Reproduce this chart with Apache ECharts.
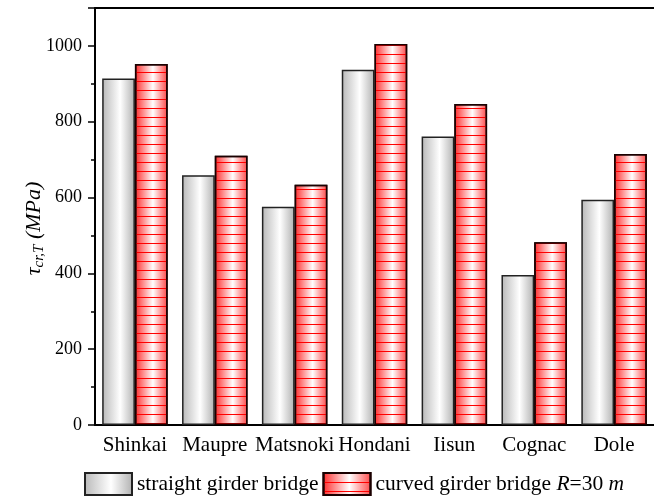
<!DOCTYPE html>
<html>
<head>
<meta charset="utf-8">
<script src="https://cdn.jsdelivr.net/npm/echarts@6/dist/echarts.min.js"></script>
<style>html,body{margin:0;padding:0;background:#fff}#c{width:654px;height:500px}</style>
</head>
<body>
<div id="c"></div>
<script>
var categories = ['Shinkai', 'Maupre', 'Matsnoki', 'Hondani', 'Iisun', 'Cognac', 'Dole'];
var straightValues = [914, 659, 576, 937, 761, 396, 594];
var curvedValues = [952, 710, 634, 1005, 847, 482, 715];
var yTicks = [0, 200, 400, 600, 800, 1000];
var seriesNames = ['straight girder bridge', 'curved girder bridge R=30 m'];

var FONT = 'Liberation Serif';
var chart = echarts.init(document.getElementById('c'), null, {renderer: 'canvas'});

var grayFill = {
  type: 'linear', x: 0, y: 0, x2: 1, y2: 0,
  colorStops: [
    {offset: 0, color: '#b8b8b8'},
    {offset: 0.55, color: '#ffffff'},
    {offset: 1, color: '#b0b0b0'}
  ]
};
var redFill = {
  type: 'linear', x: 0, y: 0, x2: 1, y2: 0,
  colorStops: [
    {offset: 0, color: '#ff2a2a'},
    {offset: 0.55, color: '#ffffff'},
    {offset: 1, color: '#ff4545'}
  ]
};

var option = {
  animation: false,
  backgroundColor: '#ffffff',
  grid: {left: 95, top: 8, width: 567, height: 417},
  legend: {
    bottom: 4,
    left: 84,
    padding: 0,
    itemWidth: 47,
    itemHeight: 22,
    itemGap: 4,
    icon: 'rect',
    textStyle: {
      fontFamily: FONT, fontSize: 21.5, color: '#000',
      rich: {
        n: {fontFamily: FONT, fontSize: 21.5, color: '#000'},
        i: {fontFamily: FONT, fontSize: 21.5, color: '#000', fontStyle: 'italic'}
      }
    },
    formatter: function (name) {
      if (name === seriesNames[1]) {
        return '{n|curved girder bridge }{i|R}{n|=30 }{i|m}';
      }
      return '{n|' + name + '}';
    },
    data: seriesNames
  },
  xAxis: [
    {
      type: 'category', data: categories, position: 'bottom',
      axisLine: {lineStyle: {color: '#000', width: 2}},
      axisTick: {alignWithLabel: true, interval: 0, length: 7, lineStyle: {color: '#000', width: 1.5}},
      axisLabel: {interval: 0, fontFamily: FONT, fontSize: 21, color: '#000', margin: 10}
    },
    {
      type: 'category', data: categories, position: 'bottom',
      axisLine: {show: false},
      axisTick: {interval: 0, length: 4, lineStyle: {color: '#000', width: 1.5}},
      axisLabel: {show: false}
    },
    {
      type: 'category', data: categories, position: 'top',
      axisLine: {lineStyle: {color: '#000', width: 2}},
      axisTick: {interval: 0, inside: true, length: 3, lineStyle: {color: '#555', width: 1}},
      axisLabel: {show: false}
    }
  ],
  yAxis: {
    type: 'value', min: 0, max: 1100, interval: 200,
    name: '{i|τ}{s|cr,T}{i| (MPa)}',
    nameLocation: 'middle',
    nameRotate: 90,
    nameGap: 48,
    nameMoveOverlap: false,
    nameTextStyle: {
      fontFamily: FONT, fontSize: 22, color: '#000',
      padding: [0, 24, 0, 0],
      rich: {
        i: {fontFamily: FONT, fontSize: 22, fontStyle: 'italic', color: '#000'},
        s: {fontFamily: FONT, fontSize: 15, fontStyle: 'italic', color: '#000', verticalAlign: 'bottom', padding: [10, 0, 0, 0]}
      }
    },
    axisLine: {show: true, lineStyle: {color: '#000', width: 2}},
    axisTick: {show: true, length: 7, lineStyle: {color: '#000', width: 1.5}},
    minorTick: {show: true, splitNumber: 2, length: 4, lineStyle: {color: '#000', width: 1.5}},
    splitLine: {show: false},
    axisLabel: {
      fontFamily: FONT, fontSize: 18, color: '#000', margin: 13,
      formatter: function (v) { return yTicks.indexOf(v) >= 0 ? String(v) : ''; }
    }
  },
  series: [
    {
      name: seriesNames[0], type: 'bar', data: straightValues,
      barGap: 0, barCategoryGap: '18%',
      itemStyle: {color: grayFill, borderColor: '#222', borderWidth: 1.5}
    },
    {
      name: seriesNames[1], type: 'bar', data: curvedValues,
      barGap: 0, barCategoryGap: '18%',
      itemStyle: {
        color: redFill, borderColor: '#1a0000', borderWidth: 1.5,
        decal: {
          symbol: 'rect', symbolSize: 1, color: '#ff0000', backgroundColor: 'rgba(0,0,0,0)',
          dashArrayX: [1, 0], dashArrayY: [1, 7.2], rotation: 0
        }
      }
    }
  ]
};
chart.setOption(option);
</script>
</body>
</html>
